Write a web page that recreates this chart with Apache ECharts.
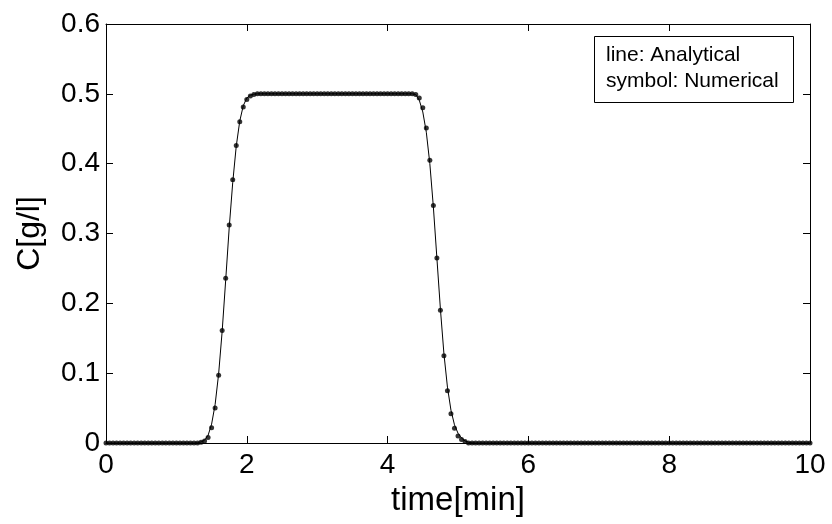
<!DOCTYPE html>
<html>
<head>
<meta charset="utf-8">
<script src="https://cdn.jsdelivr.net/npm/echarts@6/dist/echarts.min.js"></script>
<style>
  html, body { margin: 0; padding: 0; background: #fff; }
  #chart { width: 832px; height: 524px; }
</style>
</head>
<body>
<div id="chart"></div>
<script>
// numerical solution, sampled every 0.05 min from 0 to 10
const numStep = 0.05
const numValue = [
  0, 0, 0, 0, 0, 0, 0, 0, 0, 0,
  0, 0, 0, 0, 0, 0, 0, 0, 0, 0,
  0, 0, 0, 0, 0, 0, 0, 0.001, 0.003, 0.008,
  0.022, 0.050, 0.097, 0.161, 0.236, 0.312, 0.377, 0.426, 0.460, 0.481,
  0.492, 0.497, 0.499, 0.5, 0.5, 0.5, 0.5, 0.5, 0.5, 0.5,
  0.5, 0.5, 0.5, 0.5, 0.5, 0.5, 0.5, 0.5, 0.5, 0.5,
  0.5, 0.5, 0.5, 0.5, 0.5, 0.5, 0.5, 0.5, 0.5, 0.5,
  0.5, 0.5, 0.5, 0.5, 0.5, 0.5, 0.5, 0.5, 0.5, 0.5,
  0.5, 0.5, 0.5, 0.5, 0.5, 0.5, 0.5, 0.5, 0.499, 0.494,
  0.480, 0.451, 0.405, 0.340, 0.265, 0.190, 0.125, 0.075, 0.042, 0.021,
  0.010, 0.005, 0.002, 0, 0, 0, 0, 0, 0, 0,
  0, 0, 0, 0, 0, 0, 0, 0, 0, 0,
  0, 0, 0, 0, 0, 0, 0, 0, 0, 0,
  0, 0, 0, 0, 0, 0, 0, 0, 0, 0,
  0, 0, 0, 0, 0, 0, 0, 0, 0, 0,
  0, 0, 0, 0, 0, 0, 0, 0, 0, 0,
  0, 0, 0, 0, 0, 0, 0, 0, 0, 0,
  0, 0, 0, 0, 0, 0, 0, 0, 0, 0,
  0, 0, 0, 0, 0, 0, 0, 0, 0, 0,
  0, 0, 0, 0, 0, 0, 0, 0, 0, 0,
  0
]

// analytical solution
const anaTime = [
  0, 1.25, 1.3, 1.35, 1.4, 1.45, 1.5, 1.55, 1.6, 1.65, 1.7, 1.75, 1.8, 1.85, 1.9, 1.95, 2.0, 2.05, 2.1, 2.15, 2.2,
  4.35, 4.4, 4.45, 4.5, 4.55, 4.6, 4.65, 4.7, 4.75, 4.8, 4.85, 4.9, 4.95, 5.0, 5.05, 5.1, 5.15, 5.2, 5.25, 10
]
const anaValue = [
  0, 0, 0.0005, 0.0015, 0.004, 0.011, 0.027, 0.055, 0.099, 0.160, 0.233, 0.308, 0.373, 0.425, 0.461, 0.483, 0.494, 0.498, 0.4995, 0.5, 0.5,
  0.5, 0.499, 0.491, 0.474, 0.445, 0.400, 0.338, 0.265, 0.192, 0.128, 0.080, 0.047, 0.026, 0.014, 0.007, 0.003, 0.001, 0.0003, 0, 0
]

const legendLines = ['line: Analytical', 'symbol: Numerical']

const font = 'Liberation Sans, Arial, sans-serif'
const numData = numValue.map((v, i) => [+(i * numStep).toFixed(2), v])
const anaData = anaTime.map((t, i) => [t, anaValue[i]])

const myChart = echarts.init(document.getElementById('chart'))

const axisCommon = {
  axisLine: { show: true, onZero: false, lineStyle: { color: '#000', width: 1 } },
  axisTick: { show: true, inside: true, length: 7, lineStyle: { color: '#000' } },
  splitLine: { show: false }
}

const option = {
  animation: false,
  backgroundColor: '#fff',
  grid: { left: 106, right: 22, top: 24, bottom: 81, containLabel: false },
  xAxis: [
    {
      ...axisCommon,
      type: 'value',
      min: 0,
      max: 10,
      interval: 2,
      name: 'time[min]',
      nameLocation: 'middle',
      nameGap: 41,
      nameTextStyle: { fontFamily: font, fontSize: 33, color: '#000' },
      axisLabel: { fontFamily: font, fontSize: 28, color: '#000', margin: 8 }
    },
    {
      ...axisCommon,
      type: 'value',
      position: 'top',
      min: 0,
      max: 10,
      interval: 2,
      axisLabel: { show: false }
    }
  ],
  yAxis: [
    {
      ...axisCommon,
      type: 'value',
      min: 0,
      max: 0.6,
      interval: 0.1,
      name: 'C[g/l]',
      nameLocation: 'middle',
      nameGap: 60,
      nameTextStyle: { fontFamily: font, fontSize: 32, color: '#000' },
      axisLabel: { fontFamily: font, fontSize: 28, color: '#000', margin: 6 }
    },
    {
      ...axisCommon,
      type: 'value',
      position: 'right',
      min: 0,
      max: 0.6,
      interval: 0.1,
      axisLabel: { show: false }
    }
  ],
  series: [
    {
      name: 'Analytical',
      type: 'line',
      data: anaData,
      showSymbol: false,
      lineStyle: { color: '#000', width: 1 },
      z: 2
    },
    {
      name: 'Numerical',
      type: 'scatter',
      data: numData,
      symbol: 'circle',
      symbolSize: 5,
      itemStyle: { color: '#000' },
      z: 3
    }
  ],
  graphic: [
    {
      type: 'rect',
      left: 594,
      top: 36,
      shape: { width: 199, height: 66 },
      style: { fill: '#fff', stroke: '#000', lineWidth: 1 },
      z: 10
    },
    {
      type: 'text',
      left: 606,
      top: 42,
      style: {
        text: legendLines.join('\n'),
        font: '21px ' + font,
        fill: '#000',
        lineHeight: 26
      },
      z: 11
    }
  ]
}

myChart.setOption(option)
</script>
</body>
</html>
